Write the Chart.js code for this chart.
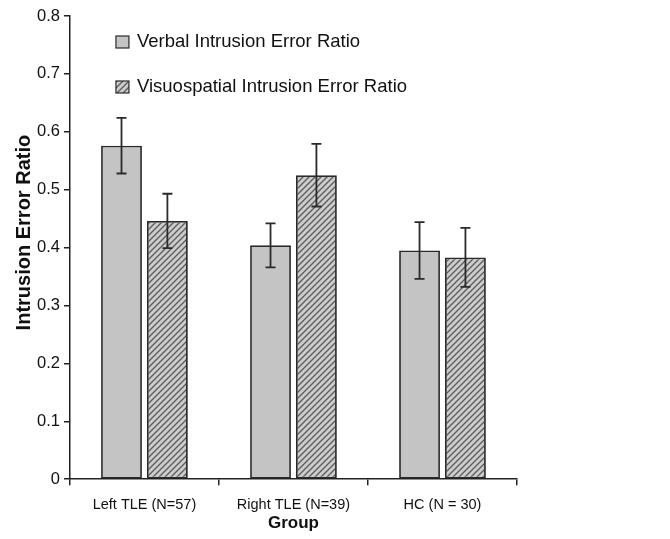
<!DOCTYPE html>
<html>
<head>
<meta charset="utf-8">
<script src="https://cdn.jsdelivr.net/npm/chart.js@4.4.0/dist/chart.umd.min.js"></script>
<style>
  html, body { margin: 0; padding: 0; background: #fff; }
  #wrap { width: 670px; height: 539px; }
</style>
</head>
<body>
<div id="wrap"><canvas id="chart" width="670" height="539"></canvas></div>
<script>
// Data
const groups = ['Left TLE (N=57)', 'Right TLE (N=39)', 'HC (N = 30)'];
const verbalRatio = [0.576, 0.404, 0.395];
const verbalErr = [0.048, 0.038, 0.049];
const visuoRatio = [0.446, 0.525, 0.383];
const visuoErr = [0.047, 0.054, 0.051];
const yTicks = [0, 0.1, 0.2, 0.3, 0.4, 0.5, 0.6, 0.7, 0.8];
const yTitle = 'Intrusion Error Ratio';

const FONT = '"Liberation Sans", Arial, sans-serif';

// hatch pattern for the second series
function makeHatch() {
    const c = document.createElement('canvas');
    c.width = 6; c.height = 6;
    const g = c.getContext('2d');
    g.fillStyle = '#cdcdcd';
    g.fillRect(0, 0, 6, 6);
    g.strokeStyle = '#5e5e5e';
    g.lineWidth = 1.4;
    g.beginPath();
    g.moveTo(-1, 7); g.lineTo(7, -1);
    g.moveTo(-4, 4); g.lineTo(4, -4);
    g.moveTo(2, 10); g.lineTo(10, 2);
    g.stroke();
    return g.createPattern(c, 'repeat');
}
const hatch = makeHatch();

// error bars drawn from the y scale
const errorBars = {
    id: 'errorBars',
    afterDatasetsDraw(chart) {
        const ctx = chart.ctx;
        const y = chart.scales.y;
        const errs = [verbalErr, visuoErr];
        ctx.save();
        ctx.strokeStyle = '#2a2a2a';
        ctx.lineWidth = 1.8;
        chart.data.datasets.forEach((ds, di) => {
            chart.getDatasetMeta(di).data.forEach((bar, i) => {
                const v = ds.data[i], e = errs[di][i];
                const top = y.getPixelForValue(v + e);
                const bot = y.getPixelForValue(v - e);
                ctx.beginPath();
                ctx.moveTo(bar.x, top); ctx.lineTo(bar.x, bot);
                ctx.moveTo(bar.x - 5, top); ctx.lineTo(bar.x + 5, top);
                ctx.moveTo(bar.x - 5, bot); ctx.lineTo(bar.x + 5, bot);
                ctx.stroke();
            });
        });
        ctx.restore();
    }
};

// legend inside the plot area (top left) and the y axis title, which sits a bit above centre
const extras = {
    id: 'extras',
    afterDraw(chart) {
        const ctx = chart.ctx;
        const area = chart.chartArea;
        const x0 = area.left + 46;
        const rows = [area.top + 26, area.top + 71];
        ctx.save();
        ctx.font = '18.5px ' + FONT;
        ctx.textBaseline = 'middle';
        chart.data.datasets.forEach((ds, i) => {
            const yc = rows[i];
            ctx.fillStyle = ds.backgroundColor;
            ctx.fillRect(x0, yc - 6, 13, 12);
            ctx.strokeStyle = '#2a2a2a';
            ctx.lineWidth = 1.2;
            ctx.strokeRect(x0, yc - 6, 13, 12);
            ctx.fillStyle = '#111';
            ctx.fillText(ds.label, x0 + 21, yc);
        });

        ctx.translate(24, (area.top + area.bottom) / 2 - 15);
        ctx.rotate(-Math.PI / 2);
        ctx.font = 'bold 20px ' + FONT;
        ctx.textAlign = 'center';
        ctx.fillText(yTitle, 0, 0);
        ctx.restore();
    }
};

new Chart(document.getElementById('chart'), {
    type: 'bar',
    data: {
        labels: groups,
        datasets: [
            {
                label: 'Verbal Intrusion Error Ratio',
                data: verbalRatio,
                backgroundColor: '#c4c4c4',
                borderColor: '#2a2a2a',
                borderWidth: 1.8,
                borderSkipped: false
            },
            {
                label: 'Visuospatial Intrusion Error Ratio',
                data: visuoRatio,
                backgroundColor: hatch,
                borderColor: '#2a2a2a',
                borderWidth: 1.8,
                borderSkipped: false
            }
        ]
    },
    options: {
        responsive: false,
        animation: false,
        categoryPercentage: 0.616,
        barPercentage: 0.89,
        layout: { padding: { top: 16, right: 153, left: 33, bottom: 2 } },
        plugins: {
            legend: { display: false },
            tooltip: { enabled: false }
        },
        scales: {
            x: {
                grid: { drawOnChartArea: false, drawTicks: true, tickLength: 6, color: '#222', lineWidth: 1.5 },
                border: { display: true, color: '#222', width: 1.5 },
                ticks: { color: '#111', font: { family: FONT, size: 14.5 }, padding: 11 },
                title: { display: true, text: 'Group', color: '#111', font: { family: FONT, size: 17, weight: 'bold' }, padding: { top: -11, bottom: 3 } }
            },
            y: {
                min: 0,
                max: 0.8,
                afterBuildTicks(scale) { scale.ticks = yTicks.map(v => ({ value: v })); },
                grid: { drawOnChartArea: false, drawTicks: true, tickLength: 6, color: '#222', lineWidth: 1.5 },
                border: { display: true, color: '#222', width: 1.5 },
                ticks: {
                    color: '#111',
                    font: { family: FONT, size: 16.5 },
                    padding: 4,
                    callback: v => v === 0 ? '0' : v.toFixed(1)
                }
            }
        }
    },
    plugins: [errorBars, extras]
});
</script>
</body>
</html>
